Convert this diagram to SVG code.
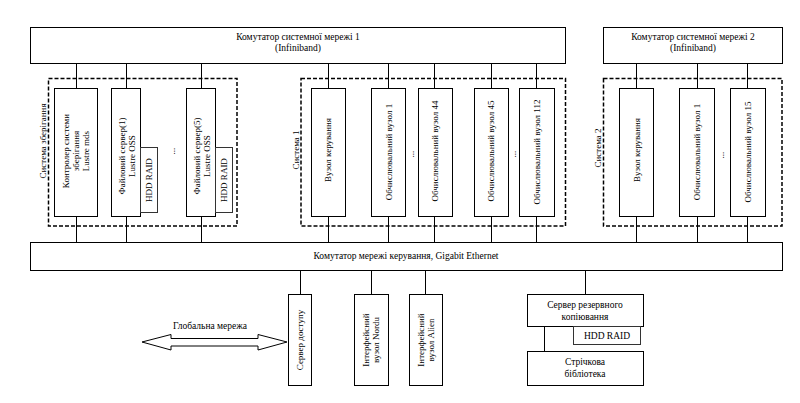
<svg xmlns="http://www.w3.org/2000/svg" width="800" height="403" viewBox="0 0 800 403">
<style>
.b{fill:#fff;stroke:#000;stroke-width:1}
.h{fill:#fff;stroke:#333;stroke-width:1}
.d{fill:none;stroke:#000;stroke-width:1.5;stroke-dasharray:4 2}
.c{stroke:#000;stroke-width:1;fill:none}
text{font-family:"Liberation Serif","Times New Roman",serif;font-size:9px;fill:#000;text-anchor:middle}
.t{font-size:9.5px}
</style>
<rect width="800" height="403" fill="#fff"/>
<g id="connectors">
<path class="c" d="M76.5 64V88M126.5 64V88M201.5 64V88M328.5 64V88M388.5 64V88M434.5 64V88M491.5 64V88M536.5 64V88M636.5 64V88M697.5 64V88M747.5 64V88"/>
<path class="c" d="M76.5 217V242M126.5 217V242M201.5 217V242M328.5 217V242M388.5 217V242M434.5 217V242M491.5 217V242M536.5 217V242M636.5 217V242M697.5 217V242M747.5 217V242"/>
<path class="c" d="M300.5 271V294M371.5 271V294M425.5 271V294M585.5 271V294M544.5 327V351"/>
</g>
<g id="switch1"><rect class="b" x="30.5" y="27.5" width="535" height="36"/><text class="t" x="298" y="40">Комутатор системної мережі 1</text><text class="t" x="298" y="51">(Infiniband)</text></g>
<g id="switch2"><rect class="b" x="603.5" y="27.5" width="179" height="36"/><text class="t" x="693" y="40">Комутатор системної мережі 2</text><text class="t" x="693" y="51">(Infiniband)</text></g>
<g id="storage"><rect class="d" x="48.5" y="78.5" width="188.5" height="147.5"/><text transform="translate(43,141) rotate(-90)" y="3">Система зберігання</text></g>
<g id="system1"><rect class="d" x="301" y="78.5" width="264.5" height="147.5"/><text transform="translate(296,150) rotate(-90)" y="3">Система 1</text></g>
<g id="system2"><rect class="d" x="603.5" y="78.5" width="178.5" height="147.5"/><text transform="translate(598,148) rotate(-90)" y="3">Система 2</text></g>
<g id="mds"><rect class="b" x="54.5" y="88.5" width="43" height="128"/><text transform="translate(76,151) rotate(-90)"><tspan x="0" y="-7">Контролер системи</tspan><tspan x="0" y="3">зберігання</tspan><tspan x="0" y="13">Lustre mds</tspan></text></g>
<g id="fs1"><rect class="b" x="111.5" y="88.5" width="29" height="128"/><text transform="translate(126,156) rotate(-90)"><tspan x="0" y="-1">Файловий сервер(1)</tspan><tspan x="0" y="9">Lustre OSS</tspan></text></g>
<g id="hdd1"><rect class="h" x="140.5" y="147.5" width="17" height="65"/><text transform="translate(149,180) rotate(-90)" y="3">HDD RAID</text></g>
<g id="fs5"><rect class="b" x="186.5" y="88.5" width="29" height="128"/><text transform="translate(201,156) rotate(-90)"><tspan x="0" y="-1">Файловий сервер(5)</tspan><tspan x="0" y="9">Lustre OSS</tspan></text></g>
<g id="hdd5"><rect class="h" x="215.5" y="147.5" width="17" height="65"/><text transform="translate(224,180) rotate(-90)" y="3">HDD RAID</text></g>
<g id="dots"><text transform="translate(172,151) rotate(-90)" y="3">...</text><text transform="translate(411,154) rotate(-90)" y="3">...</text><text transform="translate(513,154) rotate(-90)" y="3">...</text><text transform="translate(721,155) rotate(-90)" y="3">...</text></g>
<g id="s1ctrl"><rect class="b" x="311.5" y="88.5" width="34" height="128"/><text transform="translate(328,150) rotate(-90)" y="3">Вузол керування</text></g>
<g id="s1n1"><rect class="b" x="371.5" y="88.5" width="34" height="128"/><text transform="translate(389,152) rotate(-90)" y="3">Обчислювальний вузол 1</text></g>
<g id="s1n44"><rect class="b" x="418.5" y="88.5" width="34" height="128"/><text transform="translate(435,151) rotate(-90)" y="3">Обчислювальний вузол 44</text></g>
<g id="s1n45"><rect class="b" x="474.5" y="88.5" width="34" height="128"/><text transform="translate(491,151) rotate(-90)" y="3">Обчислювальний вузол 45</text></g>
<g id="s1n112"><rect class="b" x="519.5" y="88.5" width="35" height="128"/><text transform="translate(537,152) rotate(-90)" y="3">Обчислювальний вузол 112</text></g>
<g id="s2ctrl"><rect class="b" x="619.5" y="88.5" width="34" height="128"/><text transform="translate(637,150) rotate(-90)" y="3">Вузол керування</text></g>
<g id="s2n1"><rect class="b" x="679.5" y="88.5" width="35" height="128"/><text transform="translate(697,152) rotate(-90)" y="3">Обчислювальний вузол 1</text></g>
<g id="s2n15"><rect class="b" x="730.5" y="88.5" width="35" height="128"/><text transform="translate(748,152) rotate(-90)" y="3">Обчислювальний вузол 15</text></g>
<g id="mgmt"><rect class="b" x="30.5" y="242.5" width="752" height="28"/><text class="t" x="406" y="259">Комутатор мережі керування, Gigabit Ethernet</text></g>
<g id="access"><rect class="b" x="288.5" y="294.5" width="23" height="91"/><text transform="translate(300,340) rotate(-90)" y="3">Сервер доступу</text></g>
<g id="nordu"><rect class="b" x="354.5" y="294.5" width="34" height="91"/><text transform="translate(371,340) rotate(-90)"><tspan x="0" y="-2">Інтерфейсний</tspan><tspan x="0" y="8">вузол Nordu</tspan></text></g>
<g id="alien"><rect class="b" x="409.5" y="294.5" width="33" height="91"/><text transform="translate(426,340) rotate(-90)"><tspan x="0" y="-2">Інтерфейсний</tspan><tspan x="0" y="8">вузол Alien</tspan></text></g>
<g id="backup"><rect class="b" x="527.5" y="294.5" width="116" height="32"/><text class="t" x="585" y="308">Сервер резервного</text><text class="t" x="585" y="320">копіювання</text></g>
<g id="hddb"><rect class="h" x="573.5" y="326.5" width="67" height="18"/><text class="t" x="607" y="339">HDD RAID</text></g>
<g id="tape"><rect class="b" x="527.5" y="351.5" width="116" height="34"/><text class="t" x="585" y="365">Стрічкова</text><text class="t" x="585" y="377">бібліотека</text></g>
<g id="global"><polygon class="b" points="142,342 171,334.5 171,338.5 258,338.5 258,334.5 287,342 258,350 258,346 171,346 171,350"/><text class="t" x="210" y="329">Глобальна мережа</text></g>
</svg>
